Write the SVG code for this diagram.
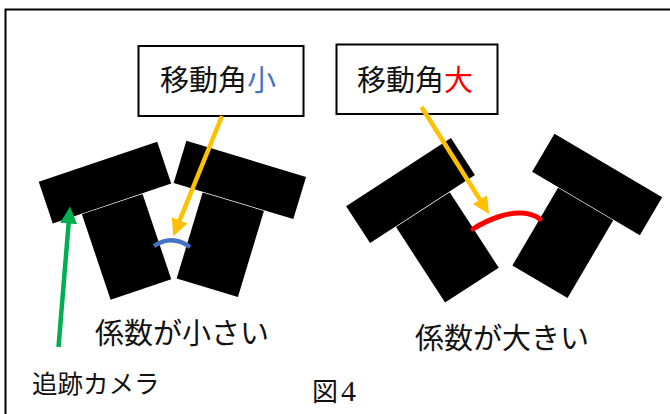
<svg xmlns="http://www.w3.org/2000/svg" width="670" height="414" viewBox="0 0 670 414">
  <style>
    .frame { fill: none; stroke: #000; stroke-width: 2; }
    .label-box { fill: #fff; stroke: #000; stroke-width: 2; }
    .cam { fill: #000; }
    .txt { font-family: "Liberation Serif", "Noto Sans CJK JP", serif; fill: #111; }
    .num { font-family: "Liberation Serif", serif; }
    .big { font-size: 29px; }
    .small { font-size: 25.5px; }
    .ptr { fill: none; stroke: #FFC000; stroke-width: 4.5; }
    .ptr-green { fill: none; stroke: #00B050; stroke-width: 4.5; }
    .arc-blue { fill: none; stroke: #4472C4; stroke-width: 4.5; }
    .arc-red { fill: none; stroke: #FF0000; stroke-width: 5; stroke-linecap: round; }
  </style>
  <defs>
    <!-- camera: wide head bar above a narrower body, origin at bar bottom-centre -->
    <g id="camera">
      <rect class="cam" x="-62.5" y="-44" width="125" height="44"/>
      <rect class="cam" x="-32" y="0.7" width="64" height="90"/>
    </g>
    <marker id="head-orange" viewBox="0 0 17 17" refX="1" refY="8.5" markerWidth="17" markerHeight="17" markerUnits="userSpaceOnUse" orient="auto">
      <path d="M0,0 L17,8.5 L0,17 Z" fill="#FFC000"/>
    </marker>
    <marker id="head-green" viewBox="0 0 17 17" refX="1" refY="8.5" markerWidth="17" markerHeight="17" markerUnits="userSpaceOnUse" orient="auto">
      <path d="M0,0 L17,8.5 L0,17 Z" fill="#00B050"/>
    </marker>
  </defs>

  <rect width="670" height="414" fill="#fff"/>
  <path class="frame" d="M5.5,414 V9.5 H670"/>

  <!-- left pair: small angle -->
  <g id="cam-small-left"><use href="#camera" transform="translate(112,203.5) rotate(-18.6)"/></g>
  <g id="cam-small-right"><use href="#camera" transform="translate(233.5,201) rotate(16.8)"/></g>

  <!-- right pair: large angle -->
  <g id="cam-large-left"><use href="#camera" transform="translate(422.5,209) rotate(-33)"/></g>
  <g id="cam-large-right"><use href="#camera" transform="translate(586,203.5) rotate(30.5)"/></g>

  <g id="label-small">
    <rect class="label-box" x="138.5" y="46" width="165" height="70"/>
    <text class="txt big" x="160" y="91">移動角<tspan fill="#4472C4">小</tspan></text>
  </g>
  <g id="label-large">
    <rect class="label-box" x="336.5" y="44.5" width="161" height="69.5"/>
    <text class="txt big" x="357" y="91">移動角<tspan fill="#FF0000">大</tspan></text>
  </g>

  <g id="connectors">
    <path class="arc-blue" d="M154,246 Q172,234 190,247"/>
    <path class="arc-red" d="M473,229 C490,218 510,212 522,213 C530,213.5 536,216 540,219"/>
    <line class="ptr" x1="222" y1="116" x2="179.3" y2="221.3" marker-end="url(#head-orange)"/>
    <line class="ptr" x1="421.5" y1="107" x2="480.5" y2="200.5" marker-end="url(#head-orange)"/>
    <line class="ptr-green" x1="58.5" y1="347" x2="68.7" y2="222.5" marker-end="url(#head-green)"/>
  </g>

  <g id="captions">
    <text class="txt big" x="95" y="344">係数が小さい</text>
    <text class="txt big" x="415" y="349">係数が大きい</text>
    <text class="txt small" x="32" y="393">追跡カメラ</text>
    <text class="txt" x="312" y="401" font-size="26">図</text>
    <text class="num" x="341" y="401" font-size="30" fill="#111">4</text>
  </g>
</svg>
